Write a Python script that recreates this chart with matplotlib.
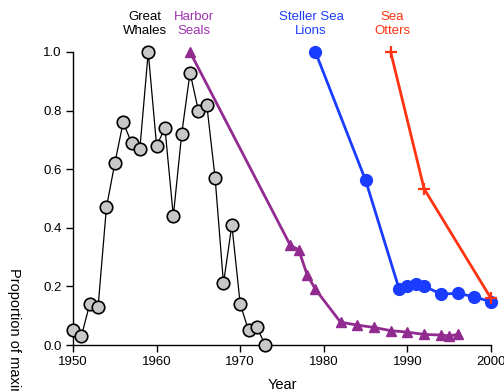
import matplotlib
matplotlib.use("Agg")
import matplotlib.pyplot as plt

plt.rcParams['font.family'] = ['Liberation Sans', 'DejaVu Sans']

whale_years = [1950, 1951, 1952, 1953, 1954, 1955, 1956, 1957, 1958, 1959, 1960, 1961,
               1962, 1963, 1964, 1965, 1966, 1967, 1968, 1969, 1970, 1971, 1972, 1973]
whale_vals = [0.05, 0.03, 0.14, 0.13, 0.47, 0.62, 0.76, 0.69, 0.67, 1.0, 0.68, 0.74,
              0.44, 0.72, 0.93, 0.80, 0.82, 0.57, 0.21, 0.41, 0.14, 0.05, 0.06, 0.0]

seal_years = [1964, 1976, 1977, 1978, 1979, 1982, 1984, 1986, 1988, 1990, 1992, 1994, 1995, 1996]
seal_vals = [1.0, 0.34, 0.325, 0.24, 0.19, 0.078, 0.068, 0.06, 0.049, 0.044, 0.036, 0.034, 0.031, 0.036]

lion_years = [1979, 1985, 1989, 1990, 1991, 1992, 1994, 1996, 1998, 2000]
lion_vals = [1.0, 0.562, 0.192, 0.201, 0.209, 0.201, 0.174, 0.176, 0.165, 0.147]

otter_years = [1988, 1992, 2000]
otter_vals = [1.0, 0.533, 0.159]

x_ticks = [1950, 1960, 1970, 1980, 1990, 2000]
y_ticks = [0.0, 0.2, 0.4, 0.6, 0.8, 1.0]
y_tick_labels = ["0.0", "0.2", "0.4", "0.6", "0.8", "1.0"]

c_whale = 'black'
c_seal = '#922b90'
c_seal_text = '#a032b0'
c_lion = '#1a3cff'
c_otter = '#ff3311'

fig = plt.figure(figsize=(5.04, 3.91), dpi=100)
ax = fig.add_axes([73/504, 1-345/391, (491-73)/504, (345-52)/391])

ax.plot(whale_years, whale_vals, color='black', lw=0.9, marker='o', ms=9,
        mfc='#c8c8c8', mec='black', mew=1.2, clip_on=False, zorder=3)
ax.plot(seal_years, seal_vals, color=c_seal, lw=2, marker='^', ms=6.5,
        mfc=c_seal, mec=c_seal, clip_on=False, zorder=2)
ax.plot(lion_years, lion_vals, color=c_lion, lw=2, marker='o', ms=8.5,
        mfc=c_lion, mec=c_lion, clip_on=False, zorder=2)
ax.plot(otter_years, otter_vals, color=c_otter, lw=2, marker='+', ms=9, mew=1.6,
        clip_on=False, zorder=2)

ax.set_xlim(1950, 2000)
ax.set_ylim(0, 1)
ax.set_xticks(x_ticks)
ax.set_yticks(y_ticks)
ax.set_yticklabels(y_tick_labels)
ax.tick_params(direction='out', length=5, width=1, labelsize=9.5, pad=3)
for s in ['top', 'right']:
    ax.spines[s].set_visible(False)
for s in ['left', 'bottom']:
    ax.spines[s].set_linewidth(1)

fs = 9.5
ls = 1.15
fig.text(145/504, 1-24/391, "Great\nWhales", color=c_whale, ha='center', va='center', fontsize=fs, linespacing=ls)
fig.text(194/504, 1-24/391, "Harbor\nSeals", color=c_seal_text, ha='center', va='center', fontsize=fs, linespacing=ls)
fig.text(311/504, 1-24/391, "Steller Sea\nLions", color=c_lion, ha='center', va='center', fontsize=fs, linespacing=ls)
fig.text(392/504, 1-24/391, "Sea\nOtters", color=c_otter, ha='center', va='center', fontsize=fs, linespacing=ls)

fig.text(14/504, 1-268/391, "Proportion of maximum", rotation=-90, ha='center', va='top', fontsize=10.5)
fig.text(282/504, 1-378/391, "Year", ha='center', va='top', fontsize=10.5)

fig.savefig("out.png", dpi=100)
